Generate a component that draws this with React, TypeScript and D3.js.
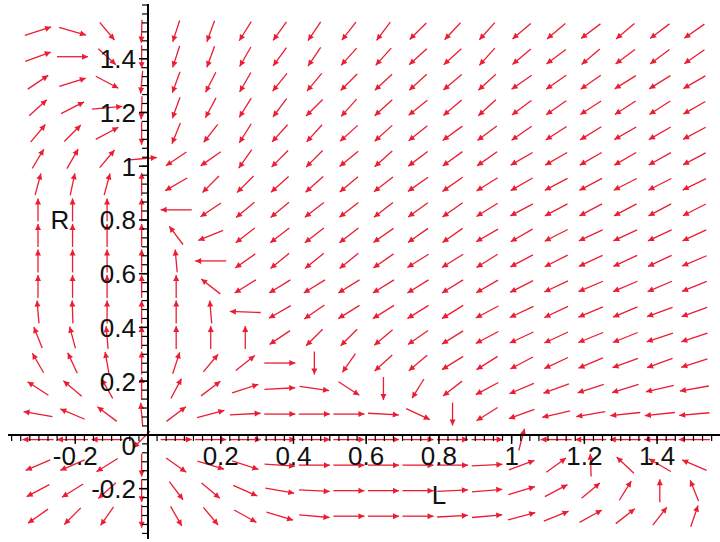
import React from 'react';
import * as d3 from 'd3';

// grid of the direction field (L across, R from top row down)
const gridL = [-0.3025, -0.2075, -0.1125, -0.0175, 0.0775, 0.1725, 0.2675, 0.3625, 0.4575, 0.5525,
  0.6475, 0.7425, 0.8375, 0.9325, 1.0275, 1.1225, 1.2175, 1.3125, 1.4075, 1.5025];
const gridR = [1.5025, 1.4075, 1.3125, 1.2175, 1.1225, 1.0275, 0.9325, 0.8375, 0.7425, 0.6475,
  0.5525, 0.4575, 0.3625, 0.2675, 0.1725, 0.0775, -0.0175, -0.1125, -0.2075, -0.3025];

// arrow direction, degrees counter-clockwise from +L (one row per gridR)
const arrowAngle = [
  [18, 344, 310, 268, 252, 250, 238, 234, 236, 232, 233, 225, 227, 228, 220, 220, 217, 220, 217, 215],
  [20, 0, 318, 270, 252, 250, 240, 234, 236, 228, 228, 222, 222, 228, 220, 217, 220, 217, 217, 215],
  [34, 17, 332, 265, 250, 243, 240, 231, 230, 225, 223, 222, 220, 222, 215, 215, 215, 212, 212, 210],
  [42, 27, 5, 268, 250, 242, 238, 233, 225, 228, 222, 219, 220, 222, 217, 215, 213, 213, 213, 210],
  [50, 45, 28, 270, 248, 232, 238, 228, 228, 222, 222, 219, 216, 217, 215, 213, 212, 210, 210, 208],
  [59, 60, 50, 5, 214, 215, 235, 225, 225, 219, 222, 217, 216, 215, 210, 210, 210, 210, 209, 208],
  [75, 78, 75, 90, 210, 225, 225, 222, 222, 220, 218, 215, 215, 212, 210, 208, 208, 207, 207, 206],
  [90, 90, 90, 90, 180, 214, 220, 220, 218, 218, 218, 216, 215, 212, 208, 208, 208, 208, 208, 207],
  [90, 90, 90, 90, 127, 202, 218, 218, 218, 218, 215, 215, 215, 210, 210, 207, 205, 205, 205, 205],
  [90, 90, 90, 90, 95, 180, 215, 219, 219, 219, 215, 212, 212, 212, 208, 207, 205, 205, 205, 203],
  [90, 90, 90, 90, 90, 142, 212, 212, 212, 212, 212, 212, 212, 210, 207, 205, 203, 203, 203, 202],
  [95, 92, 90, 90, 90, 95, 178, 210, 215, 212, 212, 212, 212, 208, 205, 205, 203, 203, 200, 200],
  [112, 105, 95, 90, 90, 90, 90, 214, 225, 225, 220, 215, 212, 208, 205, 205, 202, 202, 198, 198],
  [120, 115, 100, 90, 72, 50, 38, 0, 270, 235, 222, 220, 212, 212, 208, 205, 203, 200, 200, 198],
  [147, 140, 120, 90, 62, 37, 18, 3, 352, 327, 270, 238, 218, 208, 203, 200, 198, 197, 193, 190],
  [170, 157, 143, 95, 37, 15, 3, 0, 0, 0, 357, 335, 270, 212, 200, 193, 190, 186, 186, 185],
  [180, 180, 180, 225, 0, 0, 0, 0, 0, 0, 0, 0, 0, 0, 75, 180, 180, 180, 180, 180],
  [203, 203, 212, 270, 325, 343, 342, 356, 0, 0, 0, 0, 0, 3, 20, 36, 92, 137, 150, 157],
  [208, 212, 222, 270, 307, 320, 336, 350, 357, 0, 0, 0, 3, 5, 17, 28, 40, 58, 90, 112],
  [215, 225, 235, 270, 300, 310, 331, 343, 355, 0, 0, 0, 3, 5, 15, 22, 29, 38, 52, 71],
];

const tickValues = [-0.2, 0.2, 0.4, 0.6, 0.8, 1, 1.2, 1.4];
const tickLabels = ['-0.2', '0.2', '0.4', '0.6', '0.8', '1', '1.2', '1.4'];

const W = 720;
const H = 542;
const RED = '#ec1c32';
const FONT = '"Liberation Sans", Arial, sans-serif';

const App = () => {
  const x = d3.scaleLinear().domain([-0.385, 1.573]).range([8, 720]);
  const y = d3.scaleLinear().domain([-0.38, 1.6]).range([537, 5]);
  const step = gridL[1] - gridL[0];
  const pxX = x(1) - x(0);
  const pxY = y(0) - y(1);

  const arrows = [];
  gridR.forEach((r, i) => {
    gridL.forEach((l, j) => {
      const a = (arrowAngle[i][j] * Math.PI) / 180;
      // screen direction turned into data units
      let du = Math.cos(a) / pxX;
      let dv = Math.sin(a) / pxY;
      const n = Math.pow(Math.pow(Math.abs(du), 1.5) + Math.pow(Math.abs(dv), 1.5), 1 / 1.5);
      const half = step * 0.45;
      du = (du / n) * half;
      dv = (dv / n) * half;
      const x1 = x(l - du), y1 = y(r - dv);
      const x2 = x(l + du), y2 = y(r + dv);
      const ang = Math.atan2(y2 - y1, x2 - x1);
      const hl = 6, hw = 3;
      const bx = x2 - hl * Math.cos(ang), by = y2 - hl * Math.sin(ang);
      const head = [
        [x2, y2],
        [bx + hw * Math.sin(ang), by - hw * Math.cos(ang)],
        [bx - hw * Math.sin(ang), by + hw * Math.cos(ang)],
      ];
      arrows.push({ key: `${i}-${j}`, x1, y1, x2, y2, head });
    });
  });

  const xMinor = d3.range(-0.375, 1.56, 0.025);
  const yMinor = d3.range(-11, 49).map((k) => k / 30);

  return (
    <svg width={W} height={H} style={{ position: 'absolute', left: 0, top: 0, background: '#fff' }}>
      <rect width={W} height={H} fill="#fff" />
      {arrows.map((d) => (
        <g key={d.key}>
          <line x1={d.x1} y1={d.y1} x2={d.x2} y2={d.y2} stroke={RED} strokeWidth={1.3} />
          <polygon points={d.head.map((p) => p.join(',')).join(' ')} fill={RED} />
        </g>
      ))}

      {/* axes */}
      <line x1={8} x2={720} y1={y(0)} y2={y(0)} stroke="#000" strokeWidth={2} />
      <line x1={x(0)} x2={x(0)} y1={4} y2={539} stroke="#000" strokeWidth={2} />
      {xMinor.map((v) => (
        <line key={`xm${v}`} x1={x(v)} x2={x(v)} y1={y(0)} y2={y(0) + 6} stroke="#000" strokeWidth={1.2} />
      ))}
      {yMinor.map((v) => (
        <line key={`ym${v}`} x1={x(0) - 6} x2={x(0)} y1={y(v)} y2={y(v)} stroke="#000" strokeWidth={1.2} />
      ))}
      {tickValues.map((v) => (
        <g key={`t${v}`}>
          <line x1={x(v)} x2={x(v)} y1={y(0)} y2={y(0) + 9} stroke="#000" strokeWidth={1.5} />
          <line x1={x(0) - 9} x2={x(0)} y1={y(v)} y2={y(v)} stroke="#000" strokeWidth={1.5} />
        </g>
      ))}

      <g fontFamily={FONT} fontSize={26} fill="#111">
        {tickValues.map((v, i) => (
          <text key={`xl${v}`} x={x(v)} y={y(0) + 30} textAnchor="middle">{tickLabels[i]}</text>
        ))}
        {tickValues.map((v, i) => (
          <text key={`yl${v}`} x={x(0) - 12} y={y(v) + 9.5} textAnchor="end">{tickLabels[i]}</text>
        ))}
        <text x={x(0) - 12} y={y(0) + 20} textAnchor="end">0</text>
        <text x={x(0.8)} y={504} textAnchor="middle">L</text>
        <text x={60} y={229} textAnchor="middle">R</text>
      </g>
    </svg>
  );
};

export default App;
